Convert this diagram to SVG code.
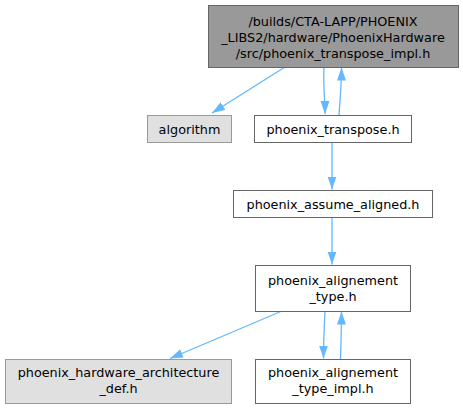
<svg xmlns="http://www.w3.org/2000/svg" width="463" height="409" viewBox="0 0 463 409">
<defs>
<style>
text{font-family:"DejaVu Sans",sans-serif;font-size:12.8px;fill:#000;text-anchor:middle}
.e{fill:none;stroke:#63b8ff;stroke-width:1.3}
.n{fill:#fff;stroke:#666}
.g{fill:#e0e0e0;stroke:#999}
.r{fill:#999;stroke:#666}
</style>
<marker id="a" markerWidth="13" markerHeight="10" refX="13" refY="5" orient="auto" markerUnits="userSpaceOnUse" viewBox="0 0 13 10">
<path d="M0,0.5 L13,5 L0,9.5 Z" fill="#63b8ff"/>
</marker>
</defs>
<g id="edges">
<path class="e" d="M285,67 L212,113" marker-end="url(#a)"/>
<path class="e" d="M324,67 C323,85 325,100 325,114" marker-end="url(#a)"/>
<path class="e" d="M339,115 C340,100 341.5,85 341.5,67.5" marker-end="url(#a)"/>
<path class="e" d="M332,142 L332,189.5" marker-end="url(#a)"/>
<path class="e" d="M332,218 L332,264.5" marker-end="url(#a)"/>
<path class="e" d="M282,311 L170,358.5" marker-end="url(#a)"/>
<path class="e" d="M325,311 C324,330 323.5,343 323.5,358.5" marker-end="url(#a)"/>
<path class="e" d="M340.5,359 C341,343 341.5,330 341.5,311.5" marker-end="url(#a)"/>
</g>
<g id="node1">
<rect class="r" x="208.5" y="5.5" width="250" height="62"/>
<text x="333" y="25.5">/builds/CTA-LAPP/PHOENIX</text>
<text x="333" y="41.5">_LIBS2/hardware/PhoenixHardware</text>
<text x="333" y="57.5">/src/phoenix_transpose_impl.h</text>
</g>
<g id="node2">
<rect class="g" x="147.5" y="115.5" width="84" height="27"/>
<text x="189.5" y="133.5">algorithm</text>
</g>
<g id="node3">
<rect class="n" x="254.5" y="115.5" width="157" height="27"/>
<text x="333" y="133.5">phoenix_transpose.h</text>
</g>
<g id="node4">
<rect class="n" x="233.5" y="190.5" width="199" height="27"/>
<text x="333" y="208.5">phoenix_assume_aligned.h</text>
</g>
<g id="node5">
<rect class="n" x="255.5" y="265.5" width="155" height="46"/>
<text x="333" y="284.5">phoenix_alignement</text>
<text x="333" y="300.5">_type.h</text>
</g>
<g id="node6">
<rect class="g" x="5.5" y="359.5" width="226" height="44"/>
<text x="118.5" y="377">phoenix_hardware_architecture</text>
<text x="118.5" y="393">_def.h</text>
</g>
<g id="node7">
<rect class="n" x="255.5" y="359.5" width="155" height="44"/>
<text x="333" y="377">phoenix_alignement</text>
<text x="333" y="393">_type_impl.h</text>
</g>
</svg>
